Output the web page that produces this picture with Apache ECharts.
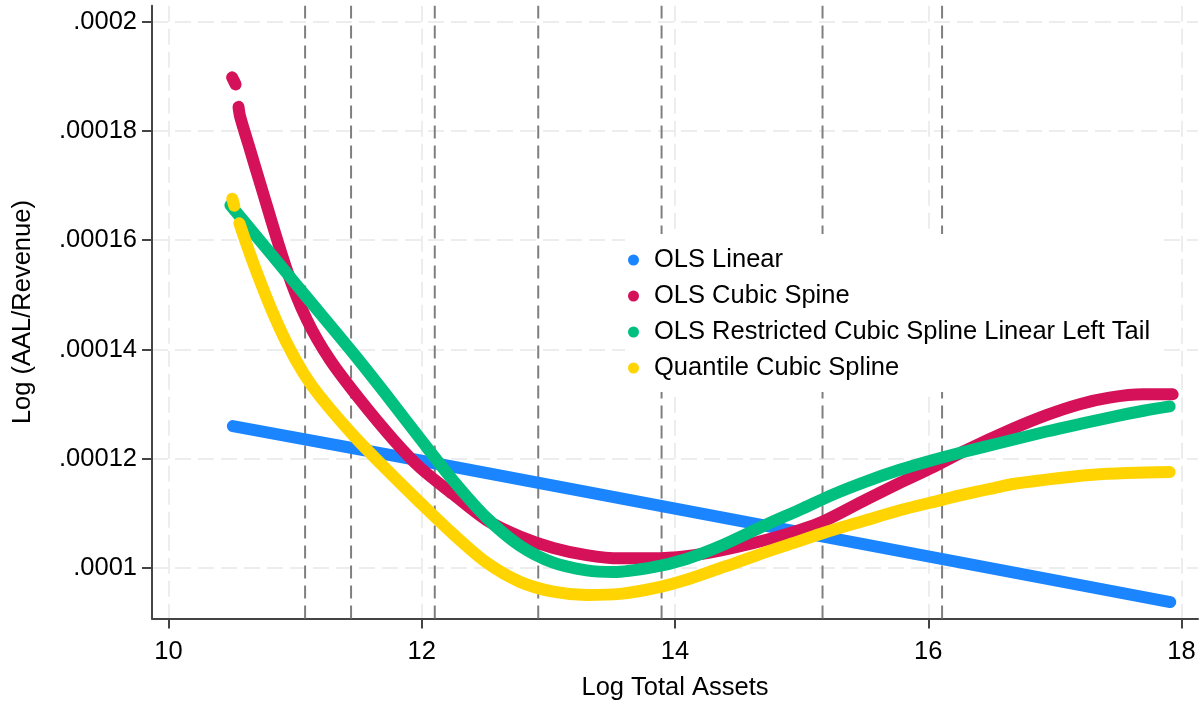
<!DOCTYPE html>
<html><head><meta charset="utf-8">
<script src="https://cdn.jsdelivr.net/npm/echarts@6/dist/echarts.min.js"></script>
<style>html,body{margin:0;padding:0;background:#fff}#c{width:1204px;height:702px}</style>
</head><body><div id="c"></div>
<script>
// ---- data ----
const xTicks = [10, 12, 14, 16, 18];
const yTicks = [0.0001, 0.00012, 0.00014, 0.00016, 0.00018, 0.0002];
const yTickLabels = ['.0001', '.00012', '.00014', '.00016', '.00018', '.0002'];
const knots = [11.079, 11.442, 12.103, 12.920, 13.894, 15.165, 16.109];
const seriesNames = ['OLS Linear', 'OLS Cubic Spine', 'OLS Restricted Cubic Spline Linear Left Tail', 'Quantile Cubic Spline'];
const seriesColors = ['#1a85ff', '#d41159', '#00bf7f', '#ffd400'];

const olsLinear = [
  [10.508, 1.260e-4], [11.987, 1.197e-4], [16.564, 0.997e-4], [17.911, 0.938e-4]
];
const olsCubic = [
  [10.503, 1.898e-4], [10.530, 1.885e-4], [10.545, '-'],
  [10.553, 1.844e-4], [10.566, 1.826e-4], [10.645, 1.765e-4], [10.724, 1.704e-4],
  [10.934, 1.546e-4], [11.092, 1.455e-4], [11.276, 1.381e-4], [11.513, 1.308e-4],
  [11.776, 1.235e-4], [11.987, 1.184e-4], [12.249, 1.135e-4], [12.513, 1.088e-4],
  [12.776, 1.058e-4], [13.039, 1.037e-4], [13.302, 1.024e-4], [13.565, 1.018e-4],
  [13.828, 1.018e-4], [14.090, 1.022e-4], [14.354, 1.032e-4], [14.723, 1.052e-4],
  [14.986, 1.070e-4], [15.165, 1.085e-4], [15.512, 1.126e-4], [15.775, 1.156e-4],
  [16.038, 1.185e-4], [16.300, 1.216e-4], [16.667, 1.255e-4], [16.933, 1.280e-4],
  [17.196, 1.300e-4], [17.430, 1.312e-4], [17.695, 1.318e-4], [17.930, 1.318e-4]
];
const olsRestricted = [
  [10.489, 1.664e-4], [10.670, 1.614e-4], [10.934, 1.540e-4], [11.080, 1.499e-4],
  [11.460, 1.393e-4], [11.724, 1.316e-4], [11.987, 1.237e-4], [12.250, 1.160e-4],
  [12.513, 1.092e-4], [12.776, 1.041e-4], [13.039, 1.010e-4], [13.302, 0.996e-4],
  [13.510, 0.993e-4], [13.828, 1.002e-4], [14.090, 1.017e-4], [14.354, 1.040e-4],
  [14.723, 1.080e-4], [14.986, 1.107e-4], [15.249, 1.135e-4], [15.512, 1.159e-4],
  [15.775, 1.180e-4], [16.038, 1.198e-4], [16.300, 1.214e-4], [16.564, 1.229e-4],
  [16.933, 1.250e-4], [17.200, 1.264e-4], [17.458, 1.277e-4], [17.700, 1.288e-4],
  [17.906, 1.296e-4]
];
const quantileCubic = [
  [10.504, 1.676e-4], [10.520, 1.663e-4], [10.540, '-'],
  [10.560, 1.631e-4], [10.670, 1.558e-4], [10.803, 1.479e-4], [10.934, 1.412e-4],
  [11.066, 1.357e-4], [11.197, 1.314e-4], [11.460, 1.243e-4], [11.724, 1.180e-4],
  [11.987, 1.120e-4], [12.250, 1.062e-4], [12.513, 1.010e-4], [12.776, 0.975e-4],
  [13.039, 0.957e-4], [13.302, 0.951e-4], [13.565, 0.953e-4], [13.828, 0.963e-4],
  [14.090, 0.979e-4], [14.354, 1.000e-4], [14.459, 1.008e-4], [14.723, 1.030e-4],
  [14.986, 1.050e-4], [15.165, 1.064e-4], [15.512, 1.088e-4], [15.775, 1.106e-4],
  [16.109, 1.125e-4], [16.300, 1.136e-4], [16.564, 1.149e-4], [16.667, 1.154e-4],
  [17.040, 1.165e-4], [17.300, 1.171e-4], [17.565, 1.174e-4], [17.906, 1.176e-4]
];

// ---- chart ----
const X_MIN = 9.87, X_MAX = 18.13, Y_MIN = 0.0000908, Y_MAX = 0.0002029;
const FONT = "'Liberation Sans', Arial, sans-serif";
const FS = 25.5;
const axisColor = '#444';

const knotData = [];
knots.forEach(k => { knotData.push([k, Y_MIN], [k, Y_MAX], [k, '-']); });

const curves = [olsLinear, olsCubic, olsRestricted, quantileCubic];

const chart = echarts.init(document.getElementById('c'), null, {renderer: 'canvas'});
chart.setOption({
  animation: false,
  backgroundColor: '#fff',
  grid: {left: 152, right: 6, top: 5.7, bottom: 83.5, containLabel: false, outerBoundsMode: 'none'},
  xAxis: {
    type: 'value', min: X_MIN, max: X_MAX,
    name: 'Log Total Assets', nameLocation: 'middle', nameGap: 56,
    nameTextStyle: {fontFamily: FONT, fontSize: FS, color: '#000'},
    axisLine: {show: true, onZero: false, lineStyle: {color: axisColor, width: 2}},
    axisTick: {show: true, length: 10, inside: false, customValues: xTicks, lineStyle: {color: axisColor, width: 2}},
    axisLabel: {customValues: xTicks, fontFamily: FONT, fontSize: FS, color: '#000', margin: 20},
    splitLine: {show: true, lineStyle: {color: '#e8e8e8', width: 1.5, type: [16, 7]}}
  },
  yAxis: {
    type: 'value', min: Y_MIN, max: Y_MAX,
    name: 'Log (AAL/Revenue)', nameLocation: 'middle', nameGap: 116,
    nameTextStyle: {fontFamily: FONT, fontSize: FS, color: '#000'},
    axisLine: {show: true, onZero: false, lineStyle: {color: axisColor, width: 2}},
    axisTick: {show: true, length: 10, inside: false, customValues: yTicks, lineStyle: {color: axisColor, width: 2}},
    axisLabel: {
      customValues: yTicks, fontFamily: FONT, fontSize: FS, color: '#000', margin: 15,
      formatter: v => { const i = yTicks.findIndex(t => Math.abs(t - v) < 1e-10); return i >= 0 ? yTickLabels[i] : ''; }
    },
    splitLine: {show: true, lineStyle: {color: '#e8e8e8', width: 1.5, type: [16, 7]}}
  },
  legend: {
    data: seriesNames, orient: 'vertical', left: 625, top: 234,
    padding: [13, 8, 11, 3], backgroundColor: '#fff',
    icon: 'circle', itemWidth: 31, itemHeight: 11, itemGap: 10,
    textStyle: {fontFamily: FONT, fontSize: FS, color: '#000', lineHeight: 25},
    selectedMode: false, z: 3
  },
  series: [
    {
      name: 'knots', type: 'line', data: knotData, symbol: 'none', silent: true,
      connectNulls: false, z: 1,
      lineStyle: {color: '#7f7f7f', width: 2, type: [13, 7]}
    }
  ].concat(curves.map((d, i) => ({
    name: seriesNames[i], type: 'line', data: d, symbol: 'none', smooth: i === 0 ? false : 0.3,
    connectNulls: false, z: 5 + i,
    itemStyle: {color: seriesColors[i]},
    lineStyle: {color: seriesColors[i], width: 12, cap: 'round', join: 'round'}
  })))
});
</script></body></html>
